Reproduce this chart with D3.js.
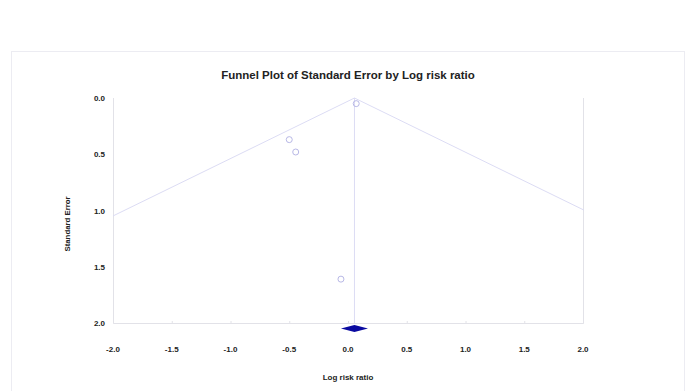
<!DOCTYPE html>
<html>
<head>
<meta charset="utf-8">
<title>Funnel Plot of Standard Error by Log risk ratio</title>
<script src="https://cdn.jsdelivr.net/npm/d3@7"></script>
<style>
  body { margin: 0; background: #fff; }
  text { font-family: "Liberation Sans", Arial, sans-serif; font-weight: bold; fill: #222; }
  .frame { fill: none; stroke: #ececf2; stroke-width: 1px; }
  .border { stroke: #e2e2e8; stroke-width: 1px; fill: none; }
  .funnel { stroke: #dcdcf4; stroke-width: 1px; fill: none; }
  .study { fill: none; stroke: #b8b8e6; stroke-width: 1px; }
  .summary { fill: #0a0aa0; }
</style>
</head>
<body>
<script>
// studies
var logRR = [0.07, -0.50, -0.445, -0.06];
var stdErr = [0.05, 0.37, 0.48, 1.61];
// pooled estimate and its 95% interval
var pooled = 0.055;
var pooledCI = [-0.06, 0.17];
var xTicks = [-2.0, -1.5, -1.0, -0.5, 0.0, 0.5, 1.0, 1.5, 2.0];
var yTicks = [0.0, 0.5, 1.0, 1.5, 2.0];

(function() {
    var width = 686, height = 391;
    var pL = 113, pR = 583, pT = 98, pB = 323;

    var x = d3.scaleLinear().domain([-2, 2]).range([pL, pR]);
    var y = d3.scaleLinear().domain([0, 2]).range([pT, pB]);
    var fmt = function(d) { return d.toFixed(1); };

    var svg = d3.select("body").append("svg")
        .attr("width", width)
        .attr("height", height);

    svg.append("rect")
        .attr("class", "frame")
        .attr("x", 11.5).attr("y", 51.5)
        .attr("width", 673).attr("height", 360);

    svg.append("text")
        .attr("x", 348).attr("y", 79)
        .attr("text-anchor", "middle")
        .style("font-size", "11.5px")
        .text("Funnel Plot of Standard Error by Log risk ratio");

    // axis lines and right border
    svg.append("path")
        .attr("class", "border")
        .attr("d", "M" + (pL + 0.5) + "," + pT + "V" + (pB + 0.5) + "H" + (pR + 0.5) + "V" + pT);

    // x ticks
    svg.selectAll(".xtick").data(xTicks).enter().append("line")
        .attr("class", "border")
        .attr("x1", function(d) { return x(d) + 0.5; })
        .attr("x2", function(d) { return x(d) + 0.5; })
        .attr("y1", pB - 2).attr("y2", pB + 0.5);

    svg.selectAll(".xlab").data(xTicks).enter().append("text")
        .attr("x", function(d) { return x(d); })
        .attr("y", 352)
        .attr("text-anchor", "middle")
        .style("font-size", "8px")
        .text(fmt);

    svg.selectAll(".ylab").data(yTicks).enter().append("text")
        .attr("x", 105)
        .attr("y", function(d) { return y(d) + 3; })
        .attr("text-anchor", "end")
        .style("font-size", "8px")
        .text(fmt);

    svg.append("text")
        .attr("x", 348).attr("y", 380)
        .attr("text-anchor", "middle")
        .style("font-size", "8px")
        .text("Log risk ratio");

    svg.append("text")
        .attr("transform", "translate(70,224) rotate(-90)")
        .attr("text-anchor", "middle")
        .style("font-size", "7.8px")
        .text("Standard Error");

    // funnel: pooled +/- 1.96 SE, clipped to the plot
    svg.append("clipPath").attr("id", "plot")
        .append("rect").attr("x", pL).attr("y", pT - 2)
        .attr("width", pR - pL + 1).attr("height", pB - pT + 2);

    var g = svg.append("g").attr("clip-path", "url(#plot)");
    var seMax = 2;
    g.append("path")
        .attr("class", "funnel")
        .attr("d", d3.line()([
            [x(pooled - 1.96 * seMax), y(seMax)],
            [x(pooled), y(0)],
            [x(pooled + 1.96 * seMax), y(seMax)]
        ]));
    g.append("line")
        .attr("class", "funnel")
        .attr("x1", x(pooled)).attr("x2", x(pooled))
        .attr("y1", y(0)).attr("y2", y(2));

    svg.selectAll(".study").data(logRR).enter().append("circle")
        .attr("class", "study")
        .attr("cx", function(d) { return x(d); })
        .attr("cy", function(d, i) { return y(stdErr[i]); })
        .attr("r", 3);

    // pooled diamond
    var dy = 328.5;
    svg.append("path")
        .attr("class", "summary")
        .attr("d", "M" + x(pooledCI[0]) + "," + dy + "L" + x(pooled) + "," + (dy - 3.5) +
                   "L" + x(pooledCI[1]) + "," + dy + "L" + x(pooled) + "," + (dy + 3.5) + "Z");
})();
</script>
</body>
</html>
